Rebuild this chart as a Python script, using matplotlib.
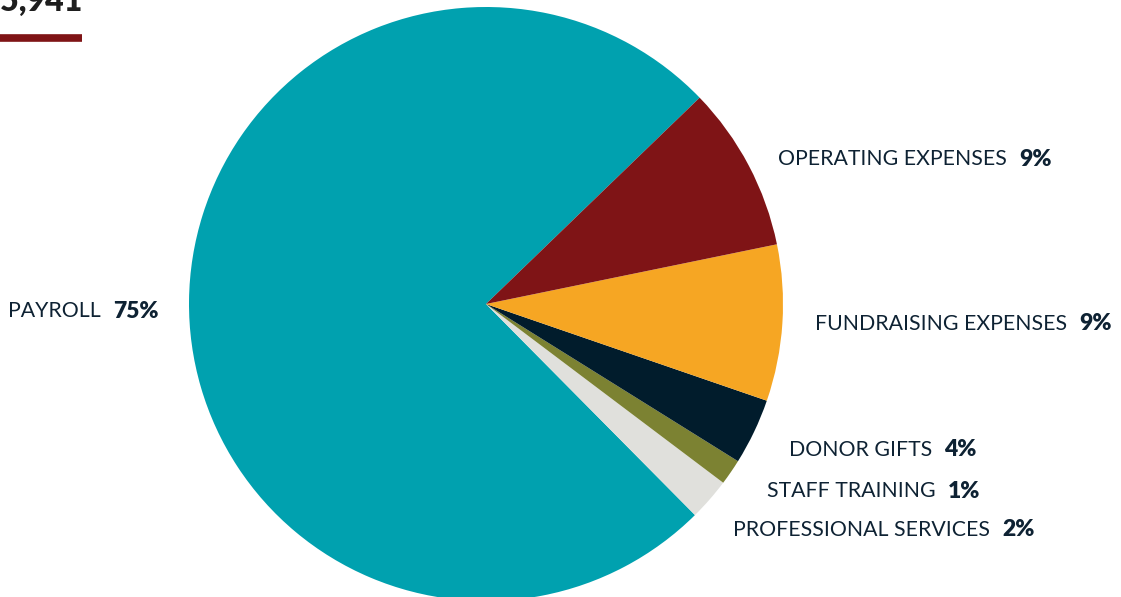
import matplotlib
matplotlib.use("Agg")
import matplotlib.pyplot as plt

plt.rcParams['font.family'] = ['Lato', 'DejaVu Sans']

# slices, counter-clockwise starting from the top-right edge of PAYROLL
names = ['PAYROLL', 'PROFESSIONAL SERVICES', 'STAFF TRAINING', 'DONOR GIFTS',
         'FUNDRAISING EXPENSES', 'OPERATING EXPENSES']
shares = [75.2, 2.3, 1.4, 3.6, 8.5, 9.0]
pct_labels = ['75%', '2%', '1%', '4%', '9%', '9%']
colors = ['#00A1AF', '#E0E0DC', '#7C8232', '#011C2C', '#F6A623', '#7F1416']

# where the labels sit (pixels from top-left)
label_pos = [(8, 311), (733, 530), (767, 491), (789, 450), (815, 324), (778, 159)]

W, H = 1121, 597
text_color = '#0E2233'

fig = plt.figure(figsize=(W / 100, H / 100), dpi=100)
ax = fig.add_axes([0, 0, 1, 1])

ax.pie(shares, colors=colors, startangle=44, counterclock=True,
       center=(486, H - 304), radius=297, frame=True,
       wedgeprops=dict(linewidth=0))
ax.set_xlim(0, W)
ax.set_ylim(0, H)
ax.set_aspect('equal')
ax.axis('off')

fig.canvas.draw()
renderer = fig.canvas.get_renderer()
for name, pct, (x, y) in zip(names, pct_labels, label_pos):
    t = ax.text(x, H - y, name, fontsize=15.3, color=text_color,
                ha='left', va='center')
    bb = t.get_window_extent(renderer=renderer)
    ax.text(bb.x1 + 12, H - y, pct, fontsize=16.5, fontweight='heavy',
            color=text_color, ha='left', va='center')

# heading in the corner, cut by the top edge as in the original
ax.text(83, H - 11, '$35,941', fontsize=23, fontweight='heavy',
        color='#1E1E1E', ha='right', va='baseline')
ax.plot([0, 82], [H - 37.5, H - 37.5], color='#7F1416', linewidth=5.5,
        solid_capstyle='butt')

fig.savefig('out.png', dpi=100)
